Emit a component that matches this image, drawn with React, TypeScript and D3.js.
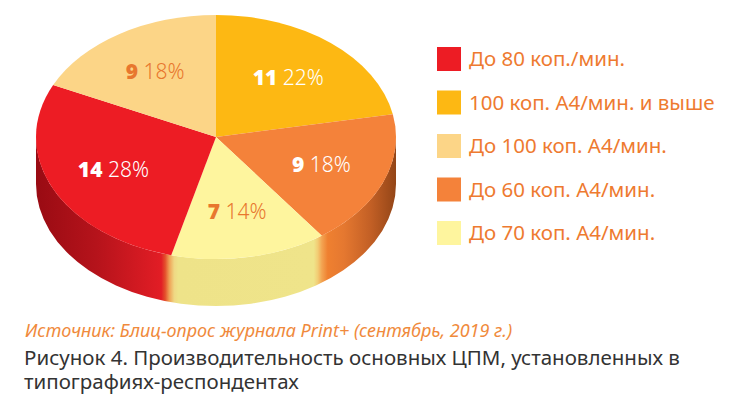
import React from "react";
import * as d3 from "d3";

// data
const categories = [
  "100 коп. А4/мин. и выше",
  "До 60 коп. А4/мин.",
  "До 70 коп. А4/мин.",
  "До 80 коп./мин.",
  "До 100 коп. А4/мин.",
];
const counts = [11, 9, 7, 14, 9];
const percents = [22, 18, 14, 28, 18];
const colors = ["#FDB813", "#F4823A", "#FEF59E", "#ED1C24", "#FCD587"];
const labelColors = ["#fff", "#fff", "#E8772E", "#fff", "#E8772E"];
const legendOrder = [3, 0, 4, 1, 2];

const sourceText = "Источник: Блиц-опрос журнала Print+ (сентябрь, 2019 г.)";
const captionLines = [
  "Рисунок 4. Производительность основных ЦПМ, установленных в",
  "типографиях-респондентах",
];

const FONT = "'Noto Sans', 'Open Sans', sans-serif";

export default function App() {
  const cx = 216, cy = 137, rx = 180, ry = 122, depth = 47;
  const k = ry / rx;

  const pie = d3.pie<number>().sort(null).value((d) => d);
  const arcs = pie(counts);
  const arc = d3.arc<d3.PieArcDatum<number>>().innerRadius(0).outerRadius(rx);
  const labelArc = d3.arc<d3.PieArcDatum<number>>().innerRadius(rx * 0.63).outerRadius(rx * 0.63);

  // x on the ellipse rim for a pie angle
  const xAt = (a: number) => cx + rx * Math.sin(a);
  const x0 = cx - rx, x1 = cx + rx;
  const off = (x: number) => Math.max(0, Math.min(1, (x - x0) / (x1 - x0)));

  // slice boundaries on the visible front wall
  const bOY = xAt(arcs[2].startAngle); // orange | light yellow
  const bYR = xAt(arcs[3].startAngle); // light yellow | red

  const stops: [number, string][] = [
    [x0, "#990B13"],
    [x0 + 60, "#B5131B"],
    [bYR - 10, "#E21D25"],
    [bYR - 6, "#E4502C"],
    [bYR - 2, "#EFA055"],
    [bYR + 3, "#EFD884"],
    [bYR + 7, "#EEE389"],
    [bOY - 8, "#EFE48A"],
    [bOY - 4, "#F2CC74"],
    [bOY, "#F3A452"],
    [bOY + 6, "#EF8030"],
    [bOY + 22, "#E57830"],
    [x1 - 25, "#C25F25"],
    [x1, "#934517"],
  ];

  const side = `M${x1},${cy} A${rx},${ry} 0 0 1 ${x0},${cy} L${x0},${cy + depth} A${rx},${ry} 0 0 0 ${x1},${cy + depth} Z`;

  const legendX = 437, legendY = 47, legendStep = 43.5, sq = 24;

  return (
    <svg
      width={736}
      height={398}
      style={{ position: "absolute", left: 0, top: 0, background: "#fff" }}
      fontFamily={FONT}
    >
      <defs>
        <linearGradient id="sideGrad" gradientUnits="userSpaceOnUse" x1={x0} y1={0} x2={x1} y2={0}>
          {stops.map(([x, c], i) => (
            <stop key={i} offset={off(x)} stopColor={c} />
          ))}
        </linearGradient>
      </defs>

      <path d={side} fill="url(#sideGrad)" />

      <g transform={`translate(${cx},${cy}) scale(1,${k})`}>
        {arcs.map((a, i) => (
          <path key={i} d={arc(a) || ""} fill={colors[i]} />
        ))}
      </g>

      {arcs.map((a, i) => {
        const [lx, ly] = labelArc.centroid(a);
        return (
          <text
            key={i}
            x={cx + lx}
            y={cy + ly * k + 7}
            textAnchor="middle"
            fontSize={21}
            fill={labelColors[i]}
          >
            <tspan fontWeight={900}>{counts[i]}</tspan>
            <tspan fontWeight={300}>{" " + percents[i] + "%"}</tspan>
          </text>
        );
      })}

      {legendOrder.map((idx, j) => (
        <g key={j} transform={`translate(${legendX},${legendY + j * legendStep})`}>
          <rect width={sq} height={sq} fill={colors[idx]} />
          <text x={32} y={sq / 2 + 7} fontSize={20.5} fill="#EE7A30">
            {categories[idx]}
          </text>
        </g>
      ))}

      <text x={25} y={337} fontSize={18} fontStyle="italic" fill="#F08A3C">
        {sourceText}
      </text>
      {captionLines.map((t, i) => (
        <text key={i} x={24} y={365 + i * 24} fontSize={20.5} fill="#333">
          {t}
        </text>
      ))}
    </svg>
  );
}
